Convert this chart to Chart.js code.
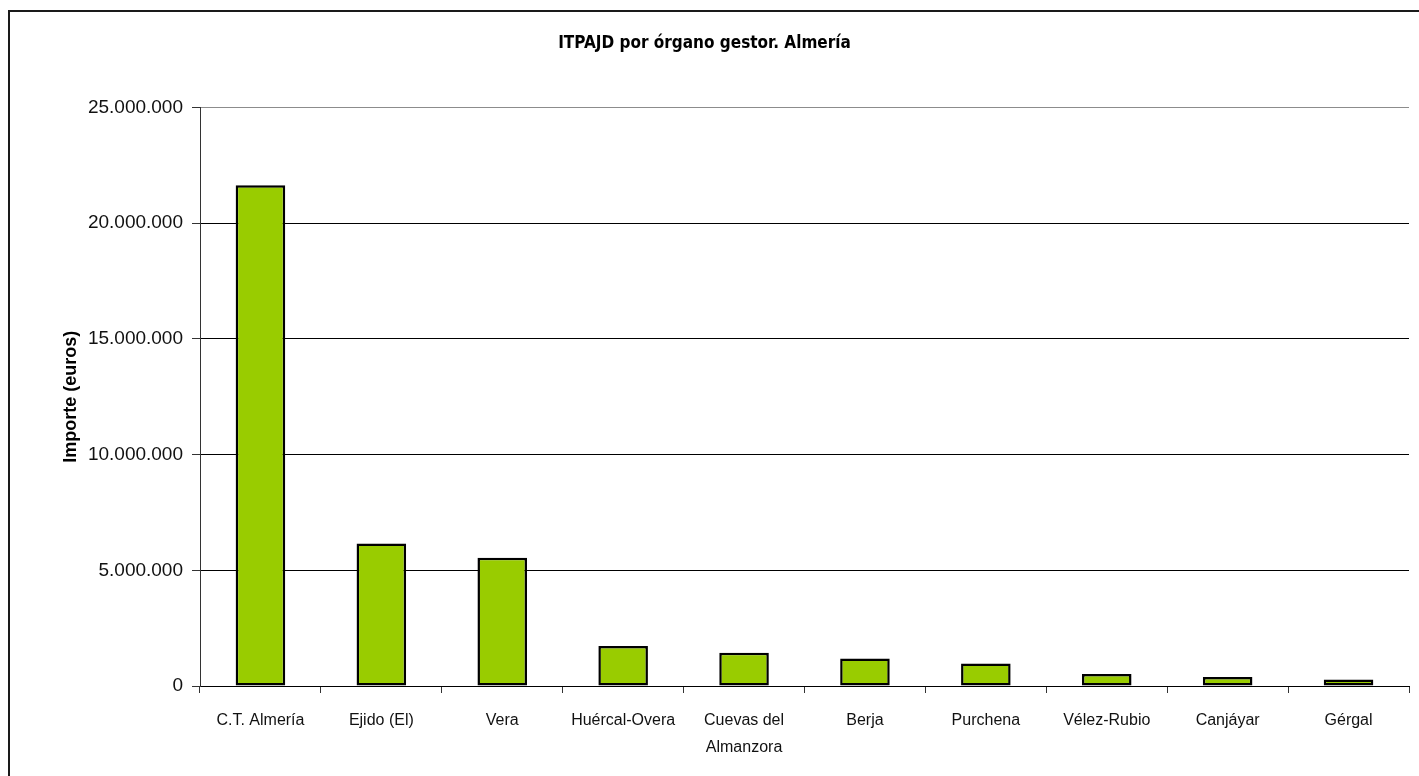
<!DOCTYPE html>
<html>
<head>
<meta charset="utf-8">
<script src="https://cdn.jsdelivr.net/npm/chart.js@4.4.1/dist/chart.umd.min.js"></script>
<style>
  html, body { margin: 0; padding: 0; background: #fff; overflow: hidden; }
  #wrap { width: 1419px; height: 776px; }
</style>
</head>
<body>
<div id="wrap"><canvas id="myChart" width="1419" height="776"></canvas></div>
<script>
// data (euros)
var oficinas = ['C.T. Almería', 'Ejido (El)', 'Vera', 'Huércal-Overa', ['Cuevas del', 'Almanzora'],
  'Berja', 'Purchena', 'Vélez-Rubio', 'Canjáyar', 'Gérgal'];
var importes = [21640000, 6160000, 5540000, 1730000, 1440000, 1190000, 970000, 520000, 390000, 280000];
var yMax = 25000000;
var yStep = 5000000;

function puntos(v) {
  return String(Math.round(v)).replace(/\B(?=(\d{3})+(?!\d))/g, '.');
}

// outer frame of the chart object
var marco = {
  id: 'marco',
  afterDraw: function (chart) {
    var c = chart.ctx;
    c.save();
    c.strokeStyle = '#1a1a1a';
    c.lineWidth = 2;
    c.beginPath();
    c.moveTo(9, 800);
    c.lineTo(9, 11);
    c.lineTo(1440, 11);
    c.stroke();
    c.restore();
  }
};

var ctx = document.getElementById('myChart').getContext('2d');
var g = {
  type: 'bar',
  data: {
    labels: oficinas,
    datasets: [{
      label: 'Importe',
      data: importes,
      backgroundColor: '#99cc00',
      borderColor: '#000',
      borderWidth: 2.5,
      borderSkipped: false,
      barPercentage: 0.41,
      categoryPercentage: 1
    }]
  },
  options: {
    responsive: false,
    animation: false,
    layout: {padding: {top: 10, right: 10, bottom: 0, left: 0}},
    plugins: {
      legend: {display: false},
      tooltip: {enabled: false},
      title: {
        display: true,
        text: 'ITPAJD por órgano gestor. Almería',
        color: '#000',
        font: {family: '"Liberation Sans Narrow", "DejaVu Sans Condensed", sans-serif', size: 17, weight: 'bold'},
        padding: {top: 23, bottom: 54}
      }
    },
    scales: {
      x: {
        offset: true,
        grid: {
          offset: true,
          drawOnChartArea: true,
          color: function (c) { return c.index === oficinas.length ? '#8c8c8c' : 'rgba(0,0,0,0)'; },
          tickColor: '#333',
          tickLength: 7
        },
        border: {color: '#000', width: 1},
        ticks: {
          color: '#111',
          font: {family: '"Liberation Sans", Arial, sans-serif', size: 16, lineHeight: 1.7},
          padding: 14,
          maxRotation: 0,
          autoSkip: false
        },
        afterFit: function (s) { s.height = 90; }
      },
      y: {
        min: 0,
        max: yMax,
        grid: {
          color: function (c) { return c.tick && c.tick.value === yMax ? '#8c8c8c' : '#000'; },
          tickColor: '#333',
          tickLength: 8
        },
        border: {color: '#333', width: 1},
        ticks: {
          stepSize: yStep,
          color: '#111',
          padding: 9,
          font: {family: '"Liberation Sans", Arial, sans-serif', size: 19},
          callback: function (v) { return puntos(v); }
        },
        title: {
          display: true,
          text: 'Importe (euros)',
          color: '#000',
          font: {family: '"Liberation Sans", Arial, sans-serif', size: 18, weight: 'bold'},
          padding: {top: 60, bottom: 0}
        },
        afterFit: function (s) { s.width = 200; }
      }
    }
  },
  plugins: [marco]
};
var chart = new Chart(ctx, g);
</script>
</body>
</html>
